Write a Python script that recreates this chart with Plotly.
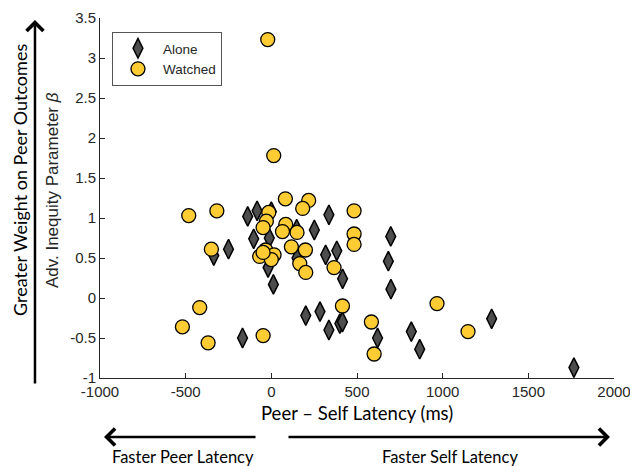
import plotly.graph_objects as go

# ---------------- data ----------------
alone_x = [-336, -250, -168, -138, -83, 0, -103, -12, -19, 12, 148, 150, 251, 336, 317,
           382, 416, 284, 201, 336, 400, 415, 620, 697, 683, 698, 817, 866, 1286, 1766]
alone_y = [0.53, 0.61, -0.50, 1.02, 1.09, 1.08, 0.74, 0.75, 0.38, 0.17, 0.86, 0.50, 0.85, 1.04, 0.54,
           0.59, 0.24, -0.17, -0.22, -0.40, -0.32, -0.30, -0.50, 0.77, 0.46, 0.11, -0.42, -0.64, -0.26, -0.87]

watched_x = [-21, 14, -482, -318, -350, -418, -519, -369, -48, 82, 218, 183, -15, -29, 84,
             -48, 65, 150, 117, 199, -33, 16, -68, 0, -48, 166, 201, 366, 483, 483,
             483, 415, 584, 600, 967, 1148]
watched_y = [3.23, 1.78, 1.03, 1.09, 0.61, -0.12, -0.36, -0.56, -0.47, 1.24, 1.22, 1.12, 1.07, 0.96, 0.92,
             0.88, 0.83, 0.82, 0.64, 0.60, 0.60, 0.54, 0.52, 0.48, 0.57, 0.43, 0.32, 0.38, 1.09, 0.80,
             0.67, -0.10, -0.30, -0.70, -0.07, -0.42]

x_ticks = [-1000, -500, 0, 500, 1000, 1500, 2000]
y_ticks = [-1, -0.5, 0, 0.5, 1, 1.5, 2, 2.5, 3, 3.5]
series_names = ["Alone", "Watched"]

# --------------- figure ---------------
axis_col = "#262626"
fig = go.Figure()
fig.add_trace(go.Scatter(
    x=alone_x, y=alone_y, mode="markers", name=series_names[0],
    marker=dict(symbol="diamond-tall", size=14, color="#4D4D4D",
                line=dict(color="black", width=1.5)),
))
fig.add_trace(go.Scatter(
    x=watched_x, y=watched_y, mode="markers", name=series_names[1],
    marker=dict(symbol="circle", size=14, color="#FFCC33",
                line=dict(color="black", width=1.3)),
))

tickfont = dict(family="Liberation Sans, Arial, sans-serif", size=15, color=axis_col)
fig.update_xaxes(range=[-1000, 2000], tickvals=x_ticks, ticktext=[str(v) for v in x_ticks],
                 showgrid=False, zeroline=False, showline=True, linecolor=axis_col, linewidth=1,
                 ticks="inside", ticklen=5, tickcolor=axis_col, tickfont=tickfont, mirror=False,
                 ticklabeloverflow="allow", automargin=False)
fig.update_yaxes(range=[-1, 3.5], tickvals=y_ticks, ticktext=[f"{v:g}" for v in y_ticks],
                 showgrid=False, zeroline=False, showline=True, linecolor=axis_col, linewidth=1,
                 ticks="inside", ticklen=5, tickcolor=axis_col, tickfont=tickfont, mirror=False,
                 ticklabeloverflow="allow", automargin=False)

cal = "Lato, Open Sans, sans-serif"
annotations = [
    dict(text="Peer \u2013 Self Latency (ms)", x=0.5, y=-0.097, xref="paper", yref="paper",
         showarrow=False, font=dict(family=cal, size=18.5, color="black"),
         xanchor="center", yanchor="middle"),
    dict(text="Adv. Inequity Parameter <i>\u03b2</i>", x=-0.0934, y=0.522, xref="paper", yref="paper",
         showarrow=False, textangle=-90, font=dict(family="Liberation Sans, Arial", size=17, color=axis_col),
         xanchor="center", yanchor="middle"),
    dict(text="Greater Weight on Peer Outcomes", x=-0.1556, y=0.55, xref="paper", yref="paper",
         showarrow=False, textangle=-90, font=dict(family=cal, size=18, color="black"),
         xanchor="center", yanchor="middle"),
    dict(text="Faster Peer Latency", x=0.161, y=-0.219, xref="paper", yref="paper",
         showarrow=False, font=dict(family=cal, size=16.5, color="black"),
         xanchor="center", yanchor="middle"),
    dict(text="Faster Self Latency", x=0.681, y=-0.219, xref="paper", yref="paper",
         showarrow=False, font=dict(family=cal, size=16.5, color="black"),
         xanchor="center", yanchor="middle"),
    # arrows
    dict(x=-0.1265, y=0.9944, xref="paper", yref="paper", ax=0, ay=365, text="",
         showarrow=True, arrowhead=4, arrowsize=1.3, arrowwidth=2.5, arrowcolor="black"),
    dict(x=0.0078, y=-0.1639, xref="paper", yref="paper", ax=153, ay=0, text="",
         showarrow=True, arrowhead=4, arrowsize=1.3, arrowwidth=2.5, arrowcolor="black"),
    dict(x=0.9922, y=-0.1639, xref="paper", yref="paper", ax=-323, ay=0, text="",
         showarrow=True, arrowhead=4, arrowsize=1.3, arrowwidth=2.5, arrowcolor="black"),
]

fig.update_layout(
    width=630, height=466, autosize=False,
    margin=dict(l=100, r=16, t=18, b=88),
    plot_bgcolor="white", paper_bgcolor="white",
    showlegend=True,
    legend=dict(x=0.0233, y=0.961, xanchor="left", yanchor="top",
                bgcolor="white", bordercolor="#555555", borderwidth=1,
                font=dict(family="Liberation Sans, Arial", size=13.5, color=axis_col),
                itemwidth=40, tracegroupgap=0),
    annotations=annotations,
)

fig.write_html("out.html", config={"responsive": False, "displayModeBar": False},
               post_script="document.body.style.margin='0';document.body.style.overflow='hidden';")
